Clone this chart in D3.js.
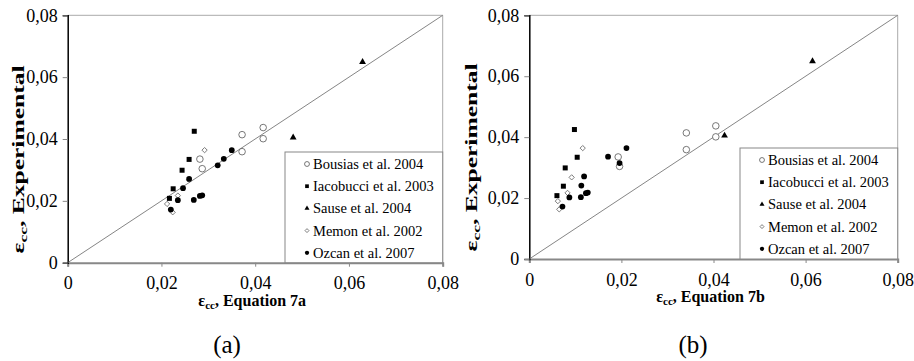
<!DOCTYPE html>
<html>
<head>
<meta charset="utf-8">
<script src="https://cdnjs.cloudflare.com/ajax/libs/d3/7.8.5/d3.min.js"></script>
<style>
body { margin: 0; background: #fff; }
</style>
</head>
<body>
<div id="chart"></div>
<script>
//Experimental strains (same in both panels)
var expBousias = [0.0437, 0.0401, 0.0414, 0.0359, 0.0335, 0.0304];
var expIacobucci = [0.0425, 0.0334, 0.0299, 0.0239, 0.0208];
var expSause = [0.0649, 0.0405];
var expMemon = [0.0364, 0.0268, 0.0217, 0.0190, 0.0163];
var expOzcan = [0.0364, 0.0336, 0.0315, 0.0271, 0.0241, 0.0202, 0.0172, 0.0203, 0.0216, 0.0218];

//Predicted strains, Equation 7a
var eq7aBousias = [0.0417, 0.0417, 0.0372, 0.0372, 0.0282, 0.0287];
var eq7aIacobucci = [0.0270, 0.0259, 0.0244, 0.0225, 0.0217];
var eq7aSause = [0.0629, 0.0481];
var eq7aMemon = [0.0292, 0.0259, 0.0235, 0.0212, 0.0224];
var eq7aOzcan = [0.0350, 0.0333, 0.0320, 0.0259, 0.0246, 0.0235, 0.0220, 0.0269, 0.0282, 0.0287];

//Predicted strains, Equation 7b
var eq7bBousias = [0.0405, 0.0405, 0.0341, 0.0341, 0.0193, 0.0196];
var eq7bIacobucci = [0.0098, 0.0104, 0.0078, 0.0074, 0.0060];
var eq7bSause = [0.0615, 0.0424];
var eq7bMemon = [0.0116, 0.0092, 0.0083, 0.0062, 0.0065];
var eq7bOzcan = [0.0211, 0.0171, 0.0196, 0.0119, 0.0113, 0.0087, 0.0072, 0.0112, 0.0123, 0.0127];

var seriesNames = ["Bousias et al. 2004", "Iacobucci et al. 2003", "Sause et al. 2004", "Memon et al. 2002", "Ozcan et al. 2007"];
var tickValues = [0, 0.02, 0.04, 0.06, 0.08];
var xTitles = ["Equation 7a", "Equation 7b"];
var panelLabels = ["(a)", "(b)"];

var width = 914;
var height = 361;
var serif = '"Liberation Serif", "Times New Roman", Times, serif';

//Marker styles, same order as seriesNames
var markers = [
    { type: d3.symbolCircle, size: 34, fill: "#fff", stroke: "#555", rot: 0 },
    { type: d3.symbolSquare, size: 25, fill: "#000", stroke: "none", rot: 0 },
    { type: d3.symbolTriangle, size: 20, fill: "#000", stroke: "none", rot: 0 },
    { type: d3.symbolSquare, size: 14, fill: "#fff", stroke: "#666", rot: 45 },
    { type: d3.symbolCircle, size: 26, fill: "#000", stroke: "none", rot: 0 }
];

var fmt = function(d) {
    return d === 0 ? "0" : d3.format(".2f")(d).replace(".", ",");
};

var svg = d3.select("#chart").append("svg")
    .attr("width", width)
    .attr("height", height)
    .style("font-family", serif);

var drawPanel = function(opts) {
    var x = d3.scaleLinear().domain([0, 0.08]).range([opts.left, opts.right]);
    var y = d3.scaleLinear().domain([0, 0.08]).range([opts.bottom, opts.top]);
    var g = svg.append("g");

    //Plot frame, top and right
    g.append("path")
        .attr("d", "M" + x(0) + "," + y(0.08) + "H" + x(0.08) + "V" + y(0))
        .attr("fill", "none")
        .attr("stroke", "#aaa")
        .attr("stroke-width", 1);

    //Bottom axis
    var xAxis = g.append("g")
        .attr("transform", "translate(0," + y(0) + ")")
        .call(d3.axisBottom(x).tickValues(tickValues).tickFormat(fmt).tickSize(4).tickPadding(10));
    xAxis.select(".domain").attr("stroke", "#888").attr("stroke-width", 2);
    xAxis.selectAll(".tick line").attr("stroke", "#888");
    xAxis.selectAll("text").style("font-family", serif).style("font-size", "18px");

    //Left axis
    var yAxis = g.append("g")
        .attr("transform", "translate(" + x(0) + ",0)")
        .call(d3.axisLeft(y).tickValues(tickValues).tickFormat(fmt).tickSize(5).tickPadding(5));
    yAxis.select(".domain").attr("stroke", "#000").attr("stroke-width", 1.5);
    yAxis.selectAll(".tick line").attr("stroke", "#888");
    yAxis.selectAll("text").style("font-family", serif).style("font-size", "18px");

    //1:1 line
    g.append("line")
        .attr("x1", x(0)).attr("y1", y(0))
        .attr("x2", x(0.08)).attr("y2", y(0.08))
        .attr("stroke", "#777")
        .attr("stroke-width", 0.9);

    //Points
    opts.series.forEach(function(s, i) {
        var m = markers[i];
        var pts = s.pred.map(function(v, j) { return { x: v, y: s.exp[j] }; });
        g.selectAll(".pt" + i).data(pts).enter()
            .append("path")
            .attr("class", "pt" + i)
            .attr("d", d3.symbol().type(m.type).size(m.size))
            .attr("transform", function(d) {
                return "translate(" + x(d.x) + "," + y(d.y) + ") rotate(" + m.rot + ")";
            })
            .attr("fill", m.fill)
            .attr("stroke", m.stroke)
            .attr("stroke-width", 0.8);
    });

    //Legend
    var lg = g.append("g");
    lg.append("rect")
        .attr("x", opts.legendX)
        .attr("y", opts.legendY)
        .attr("width", x(0.08) - opts.legendX)
        .attr("height", y(0) - opts.legendY)
        .attr("fill", "#fff")
        .attr("stroke", "#888")
        .attr("stroke-width", 1);

    seriesNames.forEach(function(name, i) {
        var m = markers[i];
        var ry = opts.legendY + 12 + i * 22.2;
        lg.append("path")
            .attr("d", d3.symbol().type(m.type).size(m.size * 0.55))
            .attr("transform", "translate(" + (opts.legendX + 22) + "," + ry + ") rotate(" + m.rot + ")")
            .attr("fill", m.fill)
            .attr("stroke", m.stroke)
            .attr("stroke-width", 0.8);
        lg.append("text")
            .attr("x", opts.legendX + 28)
            .attr("y", ry + 5)
            .style("font-size", "14.5px")
            .text(name);
    });

    //Axis titles
    var xt = g.append("text")
        .attr("x", (opts.left + opts.right) / 2 - 3)
        .attr("y", opts.bottom + 43)
        .attr("text-anchor", "middle")
        .attr("font-weight", "bold")
        .style("font-size", "16px");
    xt.append("tspan").text("ε");
    xt.append("tspan").style("font-size", "11px").attr("dy", 3).text("cc");
    xt.append("tspan").attr("dy", -3).text(", " + opts.xTitle);

    //Y title is stretched along its length in the original figure
    var yt = g.append("text")
        .attr("transform", "translate(" + opts.yTitleX + "," + opts.yTitleY + ") rotate(-90)")
        .attr("text-anchor", "middle")
        .attr("font-weight", "bold")
        .attr("textLength", 188)
        .attr("lengthAdjust", "spacingAndGlyphs")
        .style("font-size", "16px");
    yt.append("tspan").text("ε");
    yt.append("tspan").style("font-size", "11px").attr("dy", 3).text("cc");
    yt.append("tspan").attr("dy", -3).text(", Experimental");

    //Panel label
    g.append("text")
        .attr("x", opts.captionX)
        .attr("y", 353)
        .attr("text-anchor", "middle")
        .style("font-size", "25px")
        .text(opts.caption);
};

drawPanel({
    left: 67.7, right: 442.7, top: 15.3, bottom: 262.7,
    legendX: 285, legendY: 152,
    yTitleX: 24, yTitleY: 159.5,
    captionX: 227, caption: panelLabels[0], xTitle: xTitles[0],
    series: [
        { pred: eq7aBousias, exp: expBousias },
        { pred: eq7aIacobucci, exp: expIacobucci },
        { pred: eq7aSause, exp: expSause },
        { pred: eq7aMemon, exp: expMemon },
        { pred: eq7aOzcan, exp: expOzcan }
    ]
});

drawPanel({
    left: 529.3, right: 897.7, top: 15.3, bottom: 259,
    legendX: 740, legendY: 148,
    yTitleX: 477, yTitleY: 157.5,
    captionX: 693, caption: panelLabels[1], xTitle: xTitles[1],
    series: [
        { pred: eq7bBousias, exp: expBousias },
        { pred: eq7bIacobucci, exp: expIacobucci },
        { pred: eq7bSause, exp: expSause },
        { pred: eq7bMemon, exp: expMemon },
        { pred: eq7bOzcan, exp: expOzcan }
    ]
});
</script>
</body>
</html>
